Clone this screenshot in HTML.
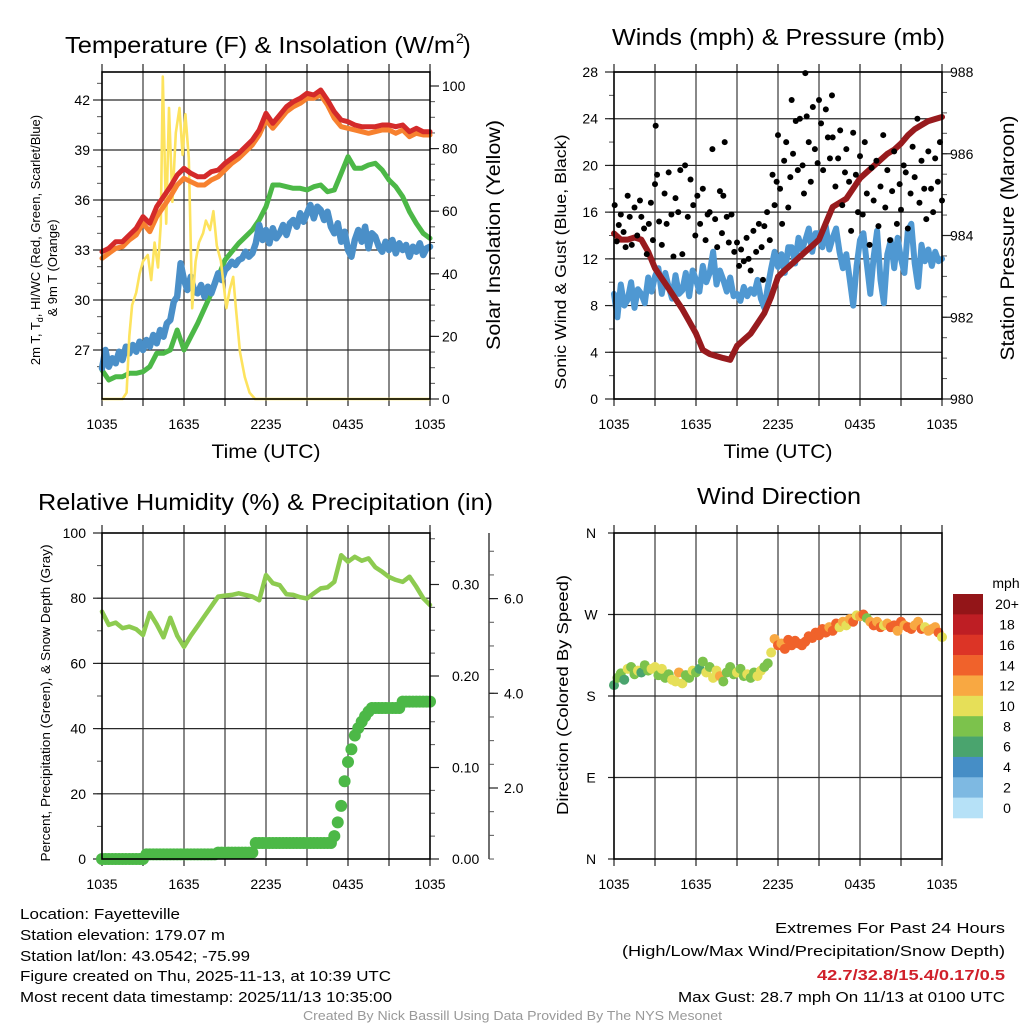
<!DOCTYPE html>
<html><head><meta charset="utf-8"><title>Mesonet Station Meteogram</title>
<style>
html,body{margin:0;padding:0;background:#fff;}
svg{display:block;font-family:"Liberation Sans",Arial,sans-serif;}
</style></head>
<body>
<svg id="fig" width="1024" height="1024" viewBox="0 0 1024 1024" xmlns="http://www.w3.org/2000/svg">
<rect x="0" y="0" width="1024" height="1024" fill="#fff"/>
<text x="65" y="53" font-size="23" textLength="390" lengthAdjust="spacingAndGlyphs">Temperature (F) &amp; Insolation (W/m</text>
<text x="456" y="43" font-size="14">2</text>
<text x="463" y="53" font-size="23">)</text>
<text x="612" y="45" font-size="23" textLength="333" lengthAdjust="spacingAndGlyphs">Winds (mph) &amp; Pressure (mb)</text>
<text x="38" y="510" font-size="23" textLength="455" lengthAdjust="spacingAndGlyphs">Relative Humidity (%) &amp; Precipitation (in)</text>
<text x="697" y="504" font-size="23" textLength="164" lengthAdjust="spacingAndGlyphs">Wind Direction</text>
<text transform="translate(40,240) rotate(-90)" text-anchor="middle" font-size="13">2m T, T<tspan font-size="9" dy="3">d</tspan><tspan dy="-3">, HI/WC (Red, Green, Scarlet/Blue)</tspan></text>
<text transform="translate(57,268) rotate(-90)" text-anchor="middle" font-size="13">&amp; 9m T (Orange)</text>
<text transform="translate(500,235) rotate(-90)" text-anchor="middle" font-size="19" textLength="230" lengthAdjust="spacingAndGlyphs">Solar Insolation (Yellow)</text>
<text x="266" y="458" text-anchor="middle" font-size="19" textLength="109" lengthAdjust="spacingAndGlyphs">Time (UTC)</text>
<text transform="translate(566,262) rotate(-90)" text-anchor="middle" font-size="16" textLength="255" lengthAdjust="spacingAndGlyphs">Sonic Wind &amp; Gust (Blue, Black)</text>
<text transform="translate(1014,238) rotate(-90)" text-anchor="middle" font-size="19" textLength="245" lengthAdjust="spacingAndGlyphs">Station Pressure (Maroon)</text>
<text x="778" y="458" text-anchor="middle" font-size="19" textLength="109" lengthAdjust="spacingAndGlyphs">Time (UTC)</text>
<text transform="translate(50,703) rotate(-90)" text-anchor="middle" font-size="13" textLength="317" lengthAdjust="spacingAndGlyphs">Percent, Precipitation (Green), &amp; Snow Depth (Gray)</text>
<text transform="translate(568,695) rotate(-90)" text-anchor="middle" font-size="16" textLength="240" lengthAdjust="spacingAndGlyphs">Direction (Colored By Speed)</text>
<g id="layer"></g>
<g font-size="15">
<text x="20" y="919" textLength="160" lengthAdjust="spacingAndGlyphs">Location: Fayetteville</text>
<text x="20" y="940" textLength="205" lengthAdjust="spacingAndGlyphs">Station elevation: 179.07 m</text>
<text x="20" y="961" textLength="230" lengthAdjust="spacingAndGlyphs">Station lat/lon: 43.0542; -75.99</text>
<text x="20" y="981" textLength="371" lengthAdjust="spacingAndGlyphs">Figure created on Thu, 2025-11-13, at 10:39 UTC</text>
<text x="20" y="1002" textLength="372" lengthAdjust="spacingAndGlyphs">Most recent data timestamp: 2025/11/13 10:35:00</text>
</g>
<g font-size="15">
<text x="775" y="933" textLength="230" lengthAdjust="spacingAndGlyphs">Extremes For Past 24 Hours</text>
<text x="622" y="956" textLength="383" lengthAdjust="spacingAndGlyphs">(High/Low/Max Wind/Precipitation/Snow Depth)</text>
<text x="817" y="980" fill="#d0202a" font-weight="bold" textLength="188" lengthAdjust="spacingAndGlyphs">42.7/32.8/15.4/0.17/0.5</text>
<text x="678" y="1002" textLength="327" lengthAdjust="spacingAndGlyphs">Max Gust: 28.7 mph On 11/13 at 0100 UTC</text>
</g>
<text x="303" y="1020" font-size="13" fill="#999" textLength="419" lengthAdjust="spacingAndGlyphs">Created By Nick Bassill Using Data Provided By The NYS Mesonet</text>
</svg>
<script>
var tempRed = [32.9,33.1,33.5,33.5,33.9,34.3,35.0,34.6,35.6,36.2,36.8,37.5,37.9,37.6,37.4,37.4,37.7,37.8,38.2,38.5,38.8,39.2,39.6,40.2,41.2,40.6,41.1,41.6,41.9,42.1,42.4,42.3,42.6,42.0,41.3,40.8,40.7,40.5,40.4,40.4,40.4,40.5,40.5,40.4,40.5,40.1,40.3,40.1,40.1];
var temp9m = [32.5,32.8,33.1,33.2,33.6,33.9,34.6,34.1,35.0,35.6,36.2,36.9,37.3,37.1,36.9,36.9,37.2,37.4,37.8,38.2,38.5,38.9,39.3,39.9,40.8,40.3,40.8,41.3,41.6,41.8,42.1,42.1,42.3,41.7,40.9,40.4,40.3,40.2,40.1,40.0,40.1,40.2,40.2,40.0,40.2,39.8,40.0,39.9,39.9];
var tempGreen = [25.8,25.2,25.4,25.4,25.6,25.6,25.7,26.0,26.8,26.8,27.0,28.2,27.0,27.8,28.6,29.5,30.4,31.4,32.4,32.9,33.4,33.8,34.2,34.8,35.6,36.9,36.9,36.8,36.7,36.7,36.6,36.8,36.9,36.5,36.6,37.6,38.6,37.9,37.9,38.1,38.2,37.8,37.2,36.8,36.2,35.3,34.6,34.0,33.7];
var tempBlue = [25.9,
 27.0,26.0,26.5,26.2, 26.9,26.4,27.2,26.8, 27.3,26.9,27.5,27.0, 27.6,27.2,27.9,27.4,
 28.2,27.8,28.6,28.8, 29.9,30.2,32.2,31.2, 30.6,31.4,30.5,30.4, 30.9,30.2,30.8,30.4,
 31.0,31.6,31.2,31.8, 32.0,32.3,32.1,32.4, 32.5,32.9,32.6,32.8, 33.4,34.5,33.6,34.2,
 33.4,34.3,33.7,34.0, 34.5,33.9,34.6,34.8, 34.4,35.2,34.7,35.2, 35.7,34.9,35.6,35.4,
 34.8,35.3,34.4,34.0, 34.6,33.5,34.1,33.0, 32.6,33.6,34.2,33.5, 34.4,33.1,34.0,33.8,
 33.2,32.9,33.5,33.0, 33.6,32.8,33.4,33.0, 33.3,32.6,33.2,32.9, 33.4,32.7,33.1,33.2];
var solarHours = [0,1.5,1.8,2.0,2.2,2.5,2.75,3.0,3.35,3.6,3.85,4.1,4.3,4.45,4.7,4.9,5.15,5.4,5.67,5.9,6.1,6.35,6.6,6.85,7.1,7.4,7.6,7.9,8.15,8.4,8.7,9.1,9.35,9.6,9.8,10.1,10.45,10.8,11.2,24];
var solarValues = [0,0,2,20,30,34,40,44,46,38,50,42,56,103,56,93,63,85,93,78,91,77,29,44,50,53,57,54,60,49,44,29,35,39,29,15,7,2,0,0];
var windSpeed = [9.0,
 7.0,9.8,8.0,8.5, 10.0,7.8,9.4,9.0, 8.2,10.4,9.2,10.5, 11.2,9.0,10.8,9.6,
 8.6,10.6,9.0,9.3, 10.8,8.8,11.0,10.2, 9.2,11.4,10.0,10.8, 12.6,9.8,11.0,10.2,
 9.2,10.4,8.8,9.0, 8.4,9.6,8.8,9.4, 9.0,10.2,8.6,7.8, 9.6,11.2,12.6,11.3,
 12.4,10.8,13.0,13.0, 11.6,13.8,12.8,13.6, 14.6,12.6,14.2,14.2, 13.0,14.8,12.8,13.8,
 14.6,12.6,11.2,12.4, 10.2,8.0,11.4,13.6, 14.2,11.6,9.0,12.2, 14.4,10.2,8.2,12.4,
 13.6,11.2,13.8,12.0, 10.8,14.4,15.0,11.6, 9.6,13.2,11.8,12.8, 11.4,12.6,11.8,12.0];
var pressure = [984.05,983.9,983.9,983.95,983.9,983.6,983.2,982.95,982.7,982.45,982.2,981.9,981.6,981.2,981.1,981.05,981.0,980.96,981.3,981.45,981.6,981.85,982.1,982.5,982.99,983.15,983.3,983.45,983.6,983.75,983.9,984.3,984.7,984.8,984.9,985.15,985.4,985.55,985.7,985.85,986.0,986.1,986.25,986.45,986.6,986.7,986.8,986.85,986.9];
var gustHours = [0.05,0.2,0.35,0.5,0.7,0.85, 1.0,1.15,1.3,1.5,1.7,1.9, 2.0,2.2,2.4,2.55,2.7,2.85, 3.0,3.05,3.15,3.3,3.5,3.7,3.85, 4.0,4.2,4.35,4.5,4.7,4.85, 5.0,5.2,5.4,5.6,5.8,5.95, 6.1,6.3,6.5,6.7,6.85, 7.0,7.2,7.4,7.55,7.75,7.9, 8.0,8.1,8.25,8.4,8.6,8.8, 9.0,9.15,9.3,9.5,9.7,9.85, 10.0,10.2,10.4,10.6,10.8,10.9, 11.0,11.2,11.4,11.6,11.75,11.9, 12.0,12.15,12.3,12.45,12.6,12.75,12.9, 13.0,13.1,13.3,13.45,13.6,13.8,13.9, 14.0,14.1,14.25,14.4,14.55,14.7,14.9, 15.0,15.15,15.3,15.5,15.65,15.8,15.95, 16.0,16.2,16.4,16.55,16.7,16.9, 17.0,17.2,17.35,17.5,17.7,17.85, 18.0,18.2,18.35,18.5,18.7,18.85, 19.0,19.2,19.35,19.5,19.7,19.85, 20.0,20.2,20.35,20.5,20.7,20.9, 21.0,21.2,21.35,21.5,21.7,21.85, 22.0,22.2,22.35,22.5,22.7,22.85, 23.0,23.2,23.35,23.5,23.7,23.85,24.0];
var gustValues = [16.6,13.5,14.9,15.8,14.3,13.0, 17.4,15.6,13.2,16.4,14.0,17.0, 15.6,14.6,12.4,15.0,16.8,13.6, 18.4,23.4,19.2,15.2,13.2,17.6,15.0, 19.4,15.8,12.2,17.2,16.0,19.6, 12.4,20.0,15.6,18.8,16.6,14.0, 17.4,15.0,18.0,13.6,15.8, 16.0,21.4,15.4,13.0,17.8,14.2, 17.4,22.0,15.6,13.4,15.8,12.6, 13.4,11.4,12.8,11.8,13.8,12.0, 11.0,14.4,12.6,15.0,13.0,10.2, 14.8,16.0,13.6,19.2,16.6,18.6, 22.6,18.0,15.0,20.4,22.0,16.4,19.0, 25.6,21.0,23.8,19.6,24.0,20.0,17.6, 27.9,24.2,22.0,18.6,25.0,21.4,20.2, 25.6,23.6,19.6,24.8,22.4,20.6,26.0, 22.4,18.2,20.6,23.0,16.6,19.4, 21.4,18.6,14.4,22.8,19.2,16.0, 20.8,15.8,22.0,17.6,13.2,19.8, 17.0,20.4,14.8,18.2,22.6,16.4, 19.6,13.6,17.8,21.2,15.0,18.4, 16.2,20.0,19.4,14.6,17.6,21.6, 19.0,24.0,16.8,20.4,18.0,15.4, 21.2,18.0,16.0,20.6,18.6,22.0,17.0];
var humidity = [75.9,71.8,72.5,70.8,71.3,70.5,68.7,75.5,72.0,68.0,74.0,68.5,65.1,68.5,71.5,74.5,77.5,80.5,80.8,81.0,81.5,81.0,80.5,79.4,87.1,84.6,84.0,81.2,81.0,80.3,79.9,81.5,83.0,83.3,85.0,93.2,91.2,92.7,91.5,92.2,89.5,88.1,86.5,85.6,85.0,86.6,83.5,80.0,77.9];
var precip = [0,
 0,0,0,0, 0,0,0,0, 0,0,0,0, 0.005,0.005,0.005,0.005,
 0.005,0.005,0.005,0.005, 0.005,0.005,0.005,0.005, 0.005,0.005,0.005,0.005, 0.005,0.005,0.005,0.005,
 0.005,0.007,0.007,0.007, 0.007,0.007,0.007,0.007, 0.007,0.007,0.007,0.007, 0.0175,0.0175,0.0175,0.0175,
 0.0175,0.0175,0.0175,0.0175, 0.0175,0.0175,0.0175,0.0175, 0.0175,0.0175,0.0175,0.0175, 0.0175,0.0175,0.0175,0.0175,
 0.0175,0.0175,0.0175,0.025, 0.040,0.058,0.085,0.106, 0.120,0.135,0.143,0.150, 0.156,0.161,0.165,0.165,
 0.165,0.165,0.165,0.165, 0.165,0.165,0.165,0.172, 0.172,0.172,0.172,0.172, 0.172,0.172,0.172,0.172];
var windDir = [192,
 200,205,198,210, 212,204,208,206, 214,208,210,212, 203,210,200,204,
 198,196,206,194, 203,200,208,206, 210,218,206,212, 200,208,202,196,
 206,212,204,206, 210,202,204,200, 206,202,208,212, 216,228,243,236,
 238,232,242,236, 241,238,236,240, 246,244,250,247, 254,250,256,252,
 260,256,262,258, 265,262,269,268, 270,266,262,258, 262,256,258,260,
 256,258,252,262, 258,256,254,258, 262,254,256,252, 254,256,250,245];
var dirSpeed = [6,
 8,9,7,10, 8,9,10,7, 9,8,10,11, 8,10,9,8,
 10,11,12,10, 9,8,10,9, 7,8,10,9, 10,11,12,9,
 8,9,8,10, 8,9,10,8, 9,10,11,9, 8,11,12,14,
 12,14,15,14, 14,15,14,15, 15,14,14,15, 14,15,12,14,
 14,11,13,10, 12,14,11,13, 14,9,12,14, 13,14,11,12,
 15,14,12,14, 12,15,14,13, 12,14,11,12, 13,12,14,11];
var timeLabels = ["1035","1635","2235","0435","1035"];
var tempTicks = [27,30,33,36,39,42];
var solarTicks = [0,20,40,60,80,100];
var windTicks = [0,4,8,12,16,20,24,28];
var pressTicks = [980,982,984,986,988];
var rhTicks = [0,20,40,60,80,100];
var precipTicks = [0.00,0.10,0.20,0.30];
var snowTicks = [2.0,4.0,6.0];
var dirLabels = ["N","E","S","W","N"];
var speedBinLabels = ["0","2","4","6","8","10","12","14","16","18","20+"];
var speedBinColors = ["#b6e1f7","#7eb9e2","#468ec6","#4aa46e","#7cc24c","#e6df58","#f8a842","#f0622b","#dc3426","#be1e24","#931518"];

var NS = "http://www.w3.org/2000/svg";
var layer = document.getElementById("layer");
function mk(tag, attrs, parent) {
  var e = document.createElementNS(NS, tag);
  for (var k in attrs) e.setAttribute(k, attrs[k]);
  (parent || layer).appendChild(e);
  return e;
}
function group(name) {
  var g = mk("g", {});
  
  
  return g;
}
var P1 = {x0:102, x1:430, y0:72, y1:399};
var P2 = {x0:614, x1:942, y0:72, y1:399};
var P3 = {x0:102, x1:430, y0:533, y1:859};
var P4 = {x0:614, x1:942, y0:533, y1:859};
function xScale(P) { return function(h){ return P.x0 + h/24*(P.x1-P.x0); }; }
function linScale(v0, y0, v1, y1) { return function(v){ return y0 + (v-v0)*(y1-y0)/(v1-v0); }; }
var yTemp = linScale(27, 350, 42, 100);
var ySolar = linScale(0, 399, 100, 86);
var yWind = linScale(0, 399, 28, 72);
var yPress = linScale(980, 399, 988, 72);
var yRH = linScale(0, 859, 100, 533);
var yPrecip = linScale(0, 859, 0.1, 767.5);
var ySnow = linScale(2, 788, 6, 598.6);
var yDir = linScale(0, 859, 360, 533);

function frame(P, name, hLines) {
  var g = group(name);
  var xs = xScale(P);
  for (var h = 3; h < 24; h += 3) {
    var gl = mk("line", {x1:xs(h), x2:xs(h), y1:P.y0, y2:P.y1, stroke:"#3a3a3a", "stroke-width":1.2}, g);
    
    
  }
  hLines.forEach(function(y){
    var hl = mk("line", {x1:P.x0, x2:P.x1, y1:y, y2:y, stroke:"#2a2a2a", "stroke-width":1.2}, g);
    
    
  });
  for (var h2 = 0; h2 <= 24; h2 += 3) {
    mk("line", {x1:xs(h2), x2:xs(h2), y1:P.y0-8, y2:P.y0, stroke:"#222", "stroke-width":1.2}, g);
    mk("line", {x1:xs(h2), x2:xs(h2), y1:P.y1, y2:P.y1+7, stroke:"#222", "stroke-width":1.2}, g);
  }
  for (var i = 0; i < timeLabels.length; i++) {
    var t = mk("text", {x:xs(i*6), y:P.y1+30, "text-anchor":"middle", "font-size":14}, g);
    t.textContent = timeLabels[i];
    
    
  }
  return g;
}
function border(P, name) {
  var r = mk("rect", {x:P.x0, y:P.y0, width:P.x1-P.x0, height:P.y1-P.y0, fill:"none", stroke:"#000", "stroke-width":1.6});
  
  
}
function leftTicks(P, g, vals, sc, minorStep, vmin, vmax, x) {
  x = x || P.x0;
  for (var v = vmin; v <= vmax + 1e-9; v += minorStep) {
    var y = sc(v); if (y < P.y0-1 || y > P.y1+1) continue;
    mk("line", {x1:x-5, x2:x, y1:y, y2:y, stroke:"#555", "stroke-width":1}, g);
  }
  vals.forEach(function(v){
    mk("line", {x1:x-9, x2:x, y1:sc(v), y2:sc(v), stroke:"#222", "stroke-width":1.2}, g);
  });
}
function rightTicks(P, g, vals, sc, minorStep, vmin, vmax, x, y0, y1) {
  x = x || P.x1; y0 = y0 || P.y0; y1 = y1 || P.y1;
  for (var v = vmin; v <= vmax + 1e-9; v += minorStep) {
    var y = sc(v); if (y < y0-1 || y > y1+1) continue;
    mk("line", {x1:x, x2:x+5, y1:y, y2:y, stroke:"#555", "stroke-width":1}, g);
  }
  vals.forEach(function(v){
    mk("line", {x1:x, x2:x+9, y1:sc(v), y2:sc(v), stroke:"#222", "stroke-width":1.2}, g);
  });
}
function label(g, x, y, txt, anchor, name) {
  var t = mk("text", {x:x, y:y+5, "text-anchor":anchor, "font-size":14}, g);
  t.textContent = txt;
  
  
}
function pathFrom(xsArr, ysArr) {
  var d = "";
  for (var i = 0; i < xsArr.length; i++) d += (i ? "L" : "M") + xsArr[i].toFixed(1) + "," + ysArr[i].toFixed(1);
  return d;
}
function seriesLine(P, arr, step, sc, color, w, name) {
  var xs = xScale(P);
  var X = arr.map(function(v,i){ return xs(i*step); });
  var Y = arr.map(function(v){ return sc(v); });
  var p = mk("path", {d:pathFrom(X,Y), fill:"none", stroke:color, "stroke-width":w, "stroke-linejoin":"round", "stroke-linecap":"round"});
  
  
  return p;
}

// Panel 1
var g1 = frame(P1, "temperature-panel-grid", tempTicks.map(yTemp));
var ax1 = group("temperature-axes");
leftTicks(P1, ax1, tempTicks, yTemp, 1, 25, 43);
tempTicks.forEach(function(v){ label(ax1, 90, yTemp(v), String(v), "end", "temp-tick-label"); });
rightTicks(P1, ax1, solarTicks, ySolar, 5, 0, 100);
solarTicks.forEach(function(v){ label(ax1, 442, ySolar(v), String(v), "start", "solar-tick-label"); });
seriesLine(P1, tempGreen, 0.5, yTemp, "#4cb847", 5, "temp-green-line");
seriesLine(P1, tempBlue, 0.25, yTemp, "#4a8fc8", 6.5, "temp-blue-line");
(function(){
  var xs = xScale(P1);
  var p = mk("path", {d:pathFrom(solarHours.map(xs), solarValues.map(ySolar)), fill:"none", stroke:"#fde35e", "stroke-width":2.6, "stroke-linejoin":"round"});
  
  
})();
seriesLine(P1, temp9m, 0.5, yTemp, "#f7812f", 5, "temp-9m-orange-line");
seriesLine(P1, tempRed, 0.5, yTemp, "#d42a2a", 5, "temp-2m-red-line");
border(P1, "temperature-plot-frame");

// Panel 2
var g2 = frame(P2, "wind-panel-grid", windTicks.map(yWind));
var ax2 = group("wind-axes");
leftTicks(P2, ax2, windTicks, yWind, 2, 0, 28);
windTicks.forEach(function(v){ label(ax2, 598, yWind(v), String(v), "end", "wind-tick-label"); });
rightTicks(P2, ax2, pressTicks, yPress, 0.5, 980, 988);
pressTicks.forEach(function(v){ label(ax2, 950, yPress(v), String(v), "start", "pressure-tick-label"); });
seriesLine(P2, windSpeed, 0.25, yWind, "#4f98d2", 6, "sonic-wind-line");
seriesLine(P2, pressure, 0.5, yPress, "#981b1e", 6, "pressure-line");
(function(){
  var xs = xScale(P2);
  var gg = group("gust-points");
  for (var i = 0; i < gustHours.length; i++) {
    var c = mk("circle", {cx:xs(gustHours[i]), cy:yWind(gustValues[i]), r:3, fill:"#000"}, gg);
    
    
  }
})();
border(P2, "wind-plot-frame");

// Panel 3
var g3 = frame(P3, "humidity-panel-grid", [20,40,60,80].map(yRH));
var ax3 = group("humidity-axes");
leftTicks(P3, ax3, rhTicks, yRH, 10, 0, 100);
rhTicks.forEach(function(v){ label(ax3, 86, yRH(v), String(v), "end", "rh-tick-label"); });
rightTicks(P3, ax3, precipTicks, yPrecip, 0.025, 0, 0.35);
precipTicks.forEach(function(v){ label(ax3, 452, yPrecip(v), v.toFixed(2), "start", "precip-tick-label"); });
var snowAxis = mk("line", {x1:489, x2:489, y1:533, y2:859, stroke:"#222", "stroke-width":1.3}, ax3);


rightTicks(P3, ax3, snowTicks, ySnow, 0.5, 0.5, 7.0, 489, 533, 859);
snowTicks.forEach(function(v){ label(ax3, 504, ySnow(v), v.toFixed(1), "start", "snow-tick-label"); });
seriesLine(P3, humidity, 0.5, yRH, "#8dcb50", 4.5, "relative-humidity-line");
(function(){
  var xs = xScale(P3);
  var gg = group("precip-points");
  for (var i = 0; i < precip.length; i++) {
    var c = mk("circle", {cx:xs(i*0.25), cy:yPrecip(precip[i]), r:6, fill:"#4cb847"}, gg);
    
    
  }
})();
border(P3, "humidity-plot-frame");

// Panel 4
var g4 = frame(P4, "direction-panel-grid", [90,180,270].map(yDir));
var ax4 = group("direction-axes");
[0,90,180,270,360].forEach(function(v,i){
  mk("line", {x1:P4.x0-6, x2:P4.x0, y1:yDir(v), y2:yDir(v), stroke:"#222", "stroke-width":1.2}, ax4);
  label(ax4, 591, yDir(v), dirLabels[i], "middle", "direction-tick-label");
});
(function(){
  var xs = xScale(P4);
  var gg = group("direction-points");
  for (var i = 0; i < windDir.length; i++) {
    var bin = Math.min(10, Math.floor(dirSpeed[i]/2));
    var c = mk("circle", {cx:xs(i*0.25), cy:yDir(windDir[i]), r:5, fill:speedBinColors[bin]}, gg);
    
    
  }
})();
border(P4, "direction-plot-frame");

(function(){
  var gc = group("speed-colorbar");
  var t = mk("text", {x:1006, y:588, "text-anchor":"middle", "font-size":14}, gc);
  t.textContent = "mph";
  
  
  var n = speedBinColors.length, top = 594, h = 224/n;
  for (var i = 0; i < n; i++) {
    var idx = n-1-i;
    var r = mk("rect", {x:953, y:top+i*h, width:30, height:h+0.3, fill:speedBinColors[idx]}, gc);
    
    
    var lt = mk("text", {x:1007, y:top+i*h+h/2+5, "text-anchor":"middle", "font-size":14}, gc);
    lt.textContent = speedBinLabels[idx];
    
    
  }
})();
</script>
</body></html>
